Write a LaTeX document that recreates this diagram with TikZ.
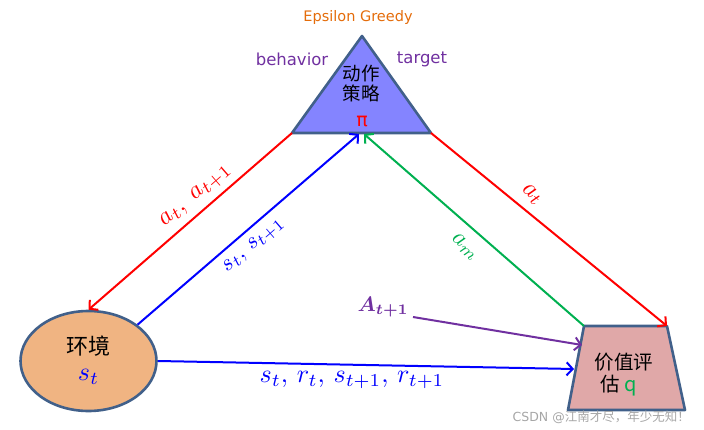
\documentclass[tikz,border=0pt]{standalone}
\usepackage{amsmath}
\usepackage{fontspec}
\setmainfont{DejaVu Sans}
\newfontfamily\cjk{Noto Sans CJK SC}
\usetikzlibrary{arrows.meta,shapes.geometric}
\definecolor{edgec}{HTML}{41608A}
\definecolor{trifill}{HTML}{8484FF}
\definecolor{envfill}{HTML}{F0B482}
\definecolor{valfill}{HTML}{E0A8A8}
\definecolor{purp}{HTML}{7030A0}
\definecolor{orng}{HTML}{E46C0A}
\definecolor{grn}{HTML}{00B050}
\begin{document}
\begin{tikzpicture}[x=1pt,y=-1pt,
  arr/.style={line width=2pt,-{Straight Barb[length=6pt,width=13pt,line width=2pt]}},
  shapeline/.style={draw=edgec,line width=2.6pt,line join=round},
  lbl/.style={inner sep=0pt}]
\useasboundingbox (0,0) rectangle (704,430);
% policy triangle
\coordinate (apex) at (362,36);
\coordinate (tl) at (292,133);
\coordinate (tr) at (431,133);
\coordinate (tbl) at (359,134);
\coordinate (tbg) at (364,134);
\path[shapeline,fill=trifill] (apex)--(tr)--(tl)--cycle;
% environment ellipse
\node[ellipse,shapeline,fill=envfill,minimum width=136pt,minimum height=100pt] (env) at (88.5,361) {};
% value trapezoid
\coordinate (vtl) at (584,326);
\coordinate (vtr) at (667,326);
\coordinate (vbr) at (685,410);
\coordinate (vbl) at (568,410);
\coordinate (vin) at (574,369);
\coordinate (vpin) at (582,345);
\path[shapeline,fill=valfill] (vtl)--(vtr)--(vbr)--(vbl)--cycle;
% texts
\node[lbl,text=orng,font=\fontsize{14.5}{16}\selectfont] (eg) at (358,18) {Epsilon Greedy};
\node[lbl,text=purp,font=\fontsize{16.5}{18}\selectfont] (beh) at (292,59) {behavior};
\node[lbl,text=purp,font=\fontsize{16.5}{18}\selectfont] (tgt) at (422,59) {target};
\node[lbl,font=\cjk\fontsize{18.5}{20}\selectfont,align=center] (pol) at (361,84) {动作\\[0pt]策略};
\node[lbl,text=red,font=\fontsize{19}{21}\selectfont] (pi) at (362,121) {π};
\node[lbl,font=\cjk\fontsize{22}{24}\selectfont] (envt) at (88.5,346) {环境};
\node[lbl,text=blue,scale=2.6] (envs) at (88.5,377) {$s_t$};
\node[lbl,font=\cjk\fontsize{19.5}{21}\selectfont] (val1) at (624,362) {价值评};
\node[lbl,font=\cjk\fontsize{19.5}{21}\selectfont] (val2) at (619,386) {估 \textcolor{grn}{\fontsize{20}{22}\selectfont q}};
% connectors
\coordinate (pa) at (413,317);
\draw[arr,red] (tl) -- (env.north);
\draw[arr,blue] (env.north east) -- (tbl);
\draw[arr,grn] (vtl) -- (tbg);
\draw[arr,red] (tr) -- (vtr);
\draw[arr,blue] (env.east) -- (vin);
\draw[arr,purp] (pa) -- (vpin);
% connector labels
\node[lbl,text=red,rotate=41,scale=2.5] (l1) at (196,196) {$a_t,\; a_{t+1}$};
\node[lbl,text=blue,rotate=41,scale=2.3] (l2) at (254,246) {$s_t,\, s_{t+1}$};
\node[lbl,text=grn,rotate=-41,scale=2.4] (l3) at (465,247) {$a_m$};
\node[lbl,text=red,rotate=-41,scale=2.5] (l4) at (532,195) {$a_t$};
\node[lbl,text=purp,scale=2.1] (l5) at (383,307) {$\boldsymbol{A_{t+1}}$};
\node[lbl,text=blue,scale=2.6] (l6) at (352,380) {$s_t,\, r_t,\, s_{t+1},\, r_{t+1}$};
\node[lbl,text=black!35,font=\fontsize{12.5}{14}\selectfont,anchor=east] (wm) at (690,417) {CSDN @{\cjk 江南才尽，年少无知！}};
\end{tikzpicture}
\end{document}
